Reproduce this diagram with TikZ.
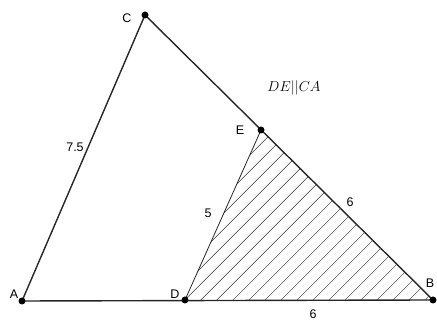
\documentclass[tikz,border=0pt]{standalone}
\usepackage{fontspec}
\setsansfont{Liberation Sans}
\begin{document}
\begin{tikzpicture}[x=1pt,y=1pt,
  seg/.style={line width=1.4pt,black!85},
  thin seg/.style={line width=0.8pt,black!85},
  pt/.style={circle,fill=black,inner sep=0pt,minimum size=7pt},
  lab/.style={font=\sffamily\fontsize{12.5}{14}\selectfont,inner sep=0pt},
  hatch/.style={line width=0.7pt,black!65}]
\useasboundingbox (0,0) rectangle (437,320);
\coordinate (A) at (22,19);
\coordinate (B) at (433,20);
\coordinate (C) at (145,305);
\coordinate (D) at (185,20);
\coordinate (E) at (261,190);
\begin{scope}
  \clip (D) -- (B) -- (E) -- cycle;
  \foreach \k in {-30,...,30} {
    \draw[hatch] ({185+16*\k-300},-280) -- ({185+16*\k+300},320);
  }
\end{scope}
\draw[seg] (A) -- (B);
\draw[seg] (A) -- (C);
\draw[seg] (C) -- (B);
\draw[thin seg] (D) -- (E);
\node[pt] (pA) at (A) {};
\node[pt] (pB) at (B) {};
\node[pt] (pC) at (C) {};
\node[pt] (pD) at (D) {};
\node[pt] (pE) at (E) {};
\node[lab] (lA) at (14,26) {A};
\node[lab] (lB) at (430,37) {B};
\node[lab] (lC) at (127,302) {C};
\node[lab] (lD) at (175,26) {D};
\node[lab] (lE) at (240,190) {E};
\node[lab] (l75) at (75,173) {7.5};
\node[lab] (l5) at (208,107) {5};
\node[lab] (l6a) at (350,118) {6};
\node[lab] (l6b) at (313,6) {6};
\node[inner sep=0pt,font=\fontsize{15}{17}\selectfont] (par) at (294,232) {$DE||CA$};
\end{tikzpicture}
\end{document}
